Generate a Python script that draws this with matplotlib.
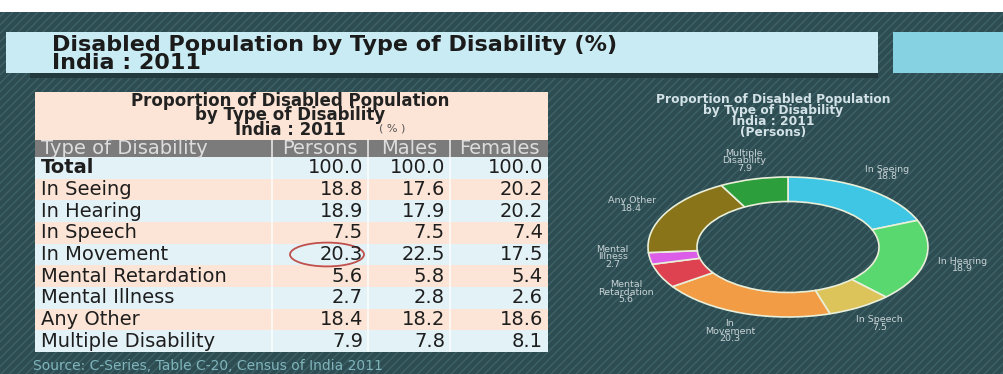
import matplotlib.pyplot as plt
from matplotlib.patches import Rectangle, Ellipse
from matplotlib.transforms import Affine2D

# 数据
categories = ["Total", "In Seeing", "In Hearing", "In Speech", "In Movement",
              "Mental Retardation", "Mental Illness", "Any Other", "Multiple Disability"]
persons = [100.0, 18.8, 18.9, 7.5, 20.3, 5.6, 2.7, 18.4, 7.9]
males = [100.0, 17.6, 17.9, 7.5, 22.5, 5.8, 2.8, 18.2, 7.8]
females = [100.0, 20.2, 20.2, 7.4, 17.5, 5.4, 2.6, 18.6, 8.1]
col_heads = ["Type of Disability", "Persons", "Males", "Females"]

donut_names = ["In Seeing", "In Hearing", "In Speech", "In\nMovement", "Mental\nRetardation",
               "Mental\nIllness", "Any Other", "Multiple\nDisability"]
donut_colors = ["#3fc6e4", "#5ad870", "#dcc35a", "#f39c46", "#de4250",
                "#dc5ee8", "#8a741a", "#2d9e3c"]

W, H = 1004, 374
fig = plt.figure(figsize=(W / 100, H / 100), dpi=100)
fig.patch.set_facecolor("white")
plt.rcParams["hatch.linewidth"] = 1.0
# 左上角像素坐标
px = Affine2D().scale(1 / W, -1 / H).translate(0, 1) + fig.transFigure

## 背景
fig.patches.append(Rectangle((0, 12), W, H - 12, transform=px, facecolor="#2d4d53",
                             edgecolor="#3e6267", hatch="////", lw=0, zorder=-3))
fig.patches.append(Rectangle((30, 73), 848, 5, transform=px, facecolor="#22393d", lw=0, zorder=-2))
fig.patches.append(Rectangle((6, 32), 872, 41, transform=px, facecolor="#c8ebf4", lw=0, zorder=-1))
fig.patches.append(Rectangle((893, 32), 111, 41, transform=px, facecolor="#86d2e3", lw=0, zorder=-1))
fig.text(52, 54, "Disabled Population by Type of Disability (%)\nIndia : 2011", transform=px,
         fontsize=16, fontweight="bold", color="#1b1b1b", va="center", ha="left", linespacing=0.86)

## 表格
ax = fig.add_axes([35 / W, 1 - 352 / H, 513 / W, 260 / H])
ax.set_xlim(0, 513)
ax.set_ylim(9, -3.0)
ax.axis("off")
edges = [0, 237, 333, 415, 513]
n = len(categories)

ax.add_patch(Rectangle((0, -3.0), 513, 2.2, facecolor="#fce5d6", lw=0))
ax.add_patch(Rectangle((0, -0.8), 513, 0.8, facecolor="#7b7b7b", lw=0))
for i in range(n):
    c = "#e3f2f7" if i % 2 == 0 else "#fce5d6"
    ax.add_patch(Rectangle((0, i), 513, 1, facecolor=c, lw=0))
for e in edges[1:-1]:
    ax.plot([e, e], [-0.8, n], color="white", lw=1.2, alpha=0.8)

ax.text(255, -1.92, "Proportion of Disabled Population\nby Type of Disability\nIndia : 2011",
        ha="center", va="center", fontsize=12, fontweight="bold", color="#222222",
        linespacing=0.76)
ax.text(357, -1.3, "( % )", ha="center", va="center", fontsize=8, color="#555555")

ax.text(6, -0.4, col_heads[0], ha="left", va="center", fontsize=14, color="#dddddd")
for j in range(1, 4):
    ax.text((edges[j] + edges[j + 1]) / 2, -0.4, col_heads[j], ha="center", va="center",
            fontsize=14, color="#dddddd")

for i, cat in enumerate(categories):
    ax.text(6, i + 0.5, cat, ha="left", va="center", fontsize=14, color="#1e1e1e",
            fontweight="bold" if i == 0 else "normal")
    for j, vals in enumerate([persons, males, females]):
        ax.text(edges[j + 2] - 5, i + 0.5, f"{vals[i]:.1f}", ha="right", va="center",
                fontsize=14, color="#1e1e1e")

# 红圈
k = categories.index("In Movement")
ax.add_patch(Ellipse((292, k + 0.5), 74, 1.1, fill=False, edgecolor="#c0504d", lw=1.3))

fig.text(33, 366, "Source: C-Series, Table C-20, Census of India 2011", transform=px,
         fontsize=10, color="#7fb5bb", va="center", ha="left")

## 环形图
ax2 = fig.add_axes([648 / W, 1 - 317 / H, 280 / W, 140 / H])
labels = [f"{nm}\n{v}" for nm, v in zip(donut_names, persons[1:])]
wedges, texts = ax2.pie(persons[1:], labels=labels, colors=donut_colors, startangle=90,
                        counterclock=False, labeldistance=1.27,
                        wedgeprops=dict(width=0.35, edgecolor="#e9efd9", linewidth=1.2),
                        textprops=dict(fontsize=6.8, color="#c8d2d5", linespacing=0.8))
for t in texts:
    t.set_ha("center")
# 两个小扇区的标签上下错开一点
x, y = texts[4].get_position()
texts[4].set_position((x, y - 0.12))
x, y = texts[5].get_position()
texts[5].set_position((x, y + 0.07))
ax2.set_aspect("auto")
ax2.set_xlim(-1, 1)
ax2.set_ylim(-1, 1)

fig.text(773, 116, "Proportion of Disabled Population\nby Type of Disability\nIndia : 2011\n(Persons)",
         transform=px, fontsize=8.8, fontweight="bold", color="#d3e2e7", ha="center",
         va="center", linespacing=0.82)

fig.savefig("out.png", dpi=100)
